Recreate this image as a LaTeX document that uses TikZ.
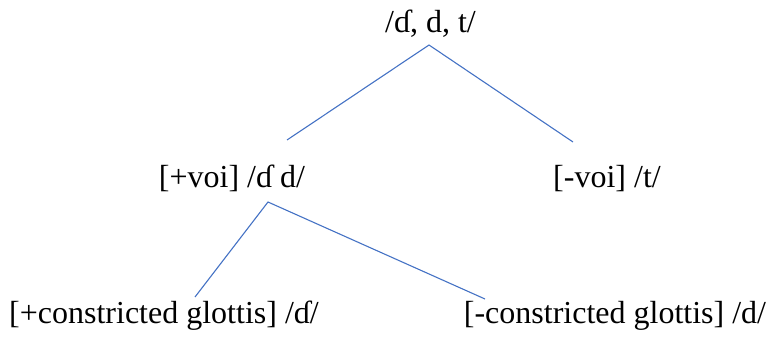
\documentclass[tikz,border=0pt]{standalone}
\usepackage{fontspec}
\setmainfont{Liberation Serif}
\usepackage{tikz}
\definecolor{branch}{HTML}{4472C4}
\begin{document}
\begin{tikzpicture}[
      x=1pt, y=-1pt,
      feat/.style={anchor=base, inner sep=0pt, font=\fontsize{32}{36}\selectfont},
      edge/.style={draw=branch, line width=1.1pt}]
    \useasboundingbox (0,0) rectangle (770,337);
    % text of the tree
    \node[feat] (root) at (430.5,33) {/ɗ, d, t/};
    \node[feat] (voi) at (232,187) {[+voi] /ɗ d/};
    \node[feat] (nvoi) at (607,187) {[-voi] /t/};
    \node[feat] (cg) at (164,323) {[+constricted glottis] /ɗ/};
    \node[feat] (ncg) at (615,323) {[-constricted glottis] /d/};
    % free ends of the branches
    \coordinate (rootb) at (429,45);
    \coordinate (voit) at (287,140);
    \coordinate (nvoit) at (573,142);
    \coordinate (voib) at (268,202);
    \coordinate (cgt) at (195,297);
    \coordinate (ncgt) at (485,299);
    \draw[edge] (voit) -- (rootb) -- (nvoit);
    \draw[edge] (cgt) -- (voib) -- (ncgt);
  \end{tikzpicture}
\end{document}
